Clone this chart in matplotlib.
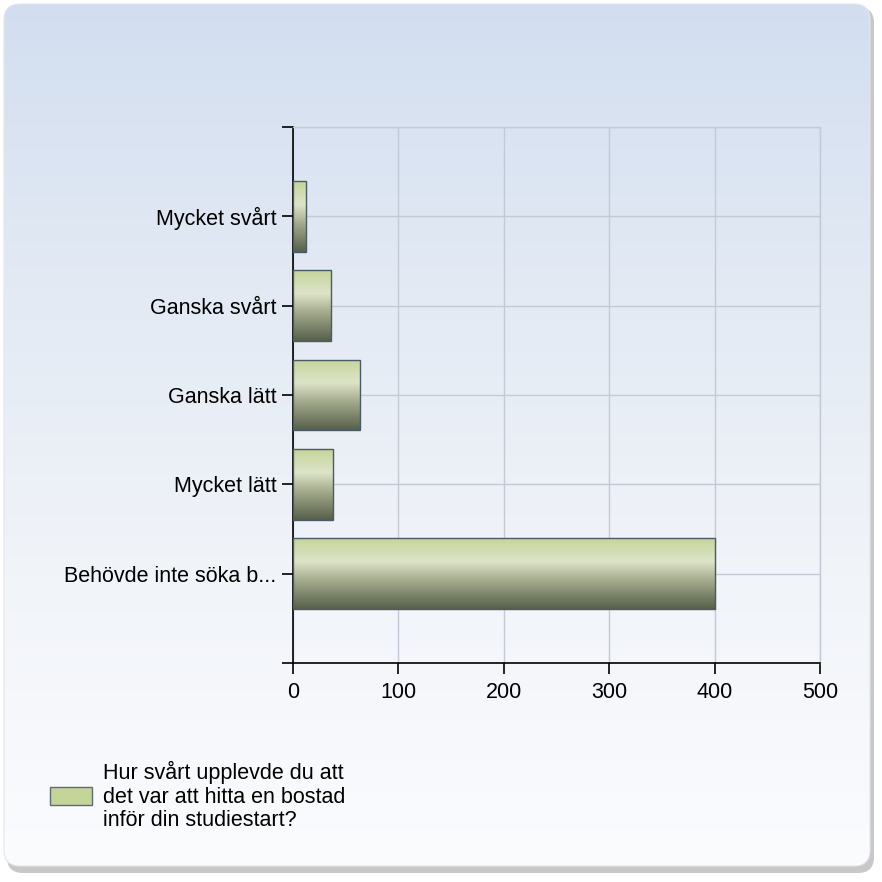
import numpy as np
import matplotlib
matplotlib.use("Agg")
from matplotlib import pyplot as plt
from matplotlib.colors import LinearSegmentedColormap
from matplotlib.patches import FancyBboxPatch

categories = ["Mycket svårt", "Ganska svårt", "Ganska lätt", "Mycket lätt", "Behövde inte söka b..."]
counts = [12, 36, 64, 38, 400]
x_ticks = [0, 100, 200, 300, 400, 500]
legend_text = "Hur svårt upplevde du att\ndet var att hitta en bostad\ninför din studiestart?"

plt.rcParams["font.family"] = ["Liberation Sans", "DejaVu Sans"]
FS = 15.5

fig = plt.figure(figsize=(8.82, 8.82), dpi=100)
fig.patch.set_facecolor("white")

# background panel with shadow and vertical gradient
bg = fig.add_axes([0, 0, 1, 1], zorder=-10)
bg.axis("off")
shadow = FancyBboxPatch((7, 7), 867, 866, boxstyle="round,pad=0,rounding_size=16",
                        facecolor="#c8c8c8", edgecolor="none", zorder=1)
bg.add_patch(shadow)
panel = FancyBboxPatch((4, 4), 866, 862, boxstyle="round,pad=0,rounding_size=16",
                       facecolor="none", edgecolor="#e2e6ec", linewidth=0.8, zorder=3)
bg.add_patch(panel)
bg_cmap = LinearSegmentedColormap.from_list("bg", ["#d2def0", "#e3eaf4", "#f1f4f9", "#fbfcfe"])
grad = np.linspace(0, 1, 256).reshape(-1, 1)
im = bg.imshow(grad, cmap=bg_cmap, aspect="auto", extent=(4, 870, 866, 4), zorder=2)
im.set_clip_path(panel)
bg.set_xlim(0, 882)
bg.set_ylim(882, 0)

# main chart
ax = fig.add_axes([293 / 882, 1 - 663 / 882, 527 / 882, 536 / 882])
ax.patch.set_alpha(0)
y = np.arange(1, len(categories) + 1)
bars = ax.barh(y, counts, height=0.79, facecolor="none", edgecolor="#4b5a68",
               linewidth=1.0, zorder=3)

bar_cmap = LinearSegmentedColormap.from_list(
    "bar", [(0, "#c5d59a"), (0.33, "#dde4c8"), (0.6, "#a3aa8c"), (1, "#56604a")])
for b in bars:
    x0, y0 = b.get_x(), b.get_y()
    w, h = b.get_width(), b.get_height()
    g = ax.imshow(grad, cmap=bar_cmap, aspect="auto",
                  extent=(x0, x0 + w, y0 + h, y0), zorder=2)
    g.set_clip_path(b)

ax.set_xlim(0, 500)
ax.set_ylim(6, 0)
ax.set_xticks(x_ticks)
ax.set_xticklabels([str(t) for t in x_ticks], fontsize=FS)
ax.set_yticks(range(0, 7))
ax.set_yticklabels([""] + categories + [""], fontsize=FS)
ax.tick_params(axis="both", length=8, width=1.2, color="black")
ax.tick_params(axis="y", pad=4)
ax.tick_params(axis="x", pad=6)

ax.grid(True, color="#c3cad6", linewidth=1.0, zorder=0)
ax.set_axisbelow(True)
for side in ["top", "right"]:
    ax.spines[side].set_color("#c3cad6")
    ax.spines[side].set_linewidth(1.0)
for side in ["left", "bottom"]:
    ax.spines[side].set_color("black")
    ax.spines[side].set_linewidth(1.2)

# legend
bg.add_patch(plt.Rectangle((50, 787), 42, 18, facecolor="#c5d59a",
                           edgecolor="#5c6b74", linewidth=1.0, zorder=4))
bg.text(103, 796, legend_text, fontsize=FS, va="center", ha="left",
        linespacing=1.15, color="black", zorder=4)

fig.savefig("out.png", dpi=100)
